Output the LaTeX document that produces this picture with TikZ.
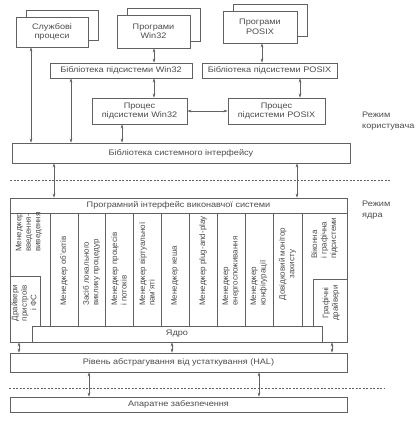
\documentclass[tikz,border=0pt]{standalone}
\usepackage{fontspec}
\setmainfont{Liberation Sans}
\newfontfamily\hfont[FakeStretch=1.14]{Liberation Sans}
\usetikzlibrary{arrows.meta}
\definecolor{ln}{gray}{0.38}
\definecolor{tx}{gray}{0.3}
\tikzset{
  box/.style={draw=ln, fill=white, line width=0.6pt, inner sep=0pt, align=center,
    text=tx, font=\hfont\fontsize{8}{9.5}\selectfont},
  arr/.style={draw=ln, line width=0.5pt, {Stealth[length=4pt,width=2.6pt]}-{Stealth[length=4pt,width=2.6pt]}},
  sep/.style={draw=ln, line width=0.5pt, dash pattern=on 2pt off 1.5pt},
  vtext/.style={rotate=90, anchor=west, align=left, inner sep=0pt, text=tx,
    font=\fontsize{8}{9.5}\selectfont},
  vctext/.style={rotate=90, anchor=center, align=center, inner sep=0pt, text=tx,
    font=\fontsize{8}{9.5}\selectfont},
  side/.style={anchor=north west, align=left, inner sep=0pt, text=tx,
    font=\hfont\fontsize{8}{11}\selectfont}
}
\begin{document}
\begin{tikzpicture}[x=1pt,y=-1pt]
\useasboundingbox[fill=white] (0,0) rectangle (415,431);

% user mode boxes
\node[box, minimum width=72pt, minimum height=30pt] (svcB) at (62,25) {};
\node[box, minimum width=72pt, minimum height=30pt] (svc) at (52,32) {Службові\\процеси};
\node[box, minimum width=73pt, minimum height=33pt] (progWB) at (163.5,24.5) {};
\node[box, minimum width=73pt, minimum height=33pt] (progW) at (153.5,31.5) {Програми\\Win32};
\node[box, minimum width=74pt, minimum height=32pt] (progPB) at (270,20) {};
\node[box, minimum width=74pt, minimum height=32pt] (progP) at (260,27) {Програми\\POSIX};

\node[box, minimum width=142pt, minimum height=15pt] (libW) at (121,70.5) {Бібліотека підсистеми Win32};
\node[box, minimum width=135pt, minimum height=15pt] (libP) at (269.5,70.5) {Бібліотека підсистеми POSIX};
\node[box, minimum width=95pt, minimum height=26pt] (procW) at (139.5,111) {Процес\\підсистеми Win32};
\node[box, minimum width=97pt, minimum height=26pt] (procP) at (276.5,111) {Процес\\підсистеми POSIX};
\node[box, minimum width=338pt, minimum height=20pt] (sys) at (181,153) {Бібліотека системного інтерфейсу};

% kernel mode
\node[box, minimum width=337pt, minimum height=144pt] (frame) at (178.5,270) {};
\node[box, minimum width=337pt, minimum height=15pt] (api) at (178.5,205.5) {Програмний інтерфейс виконавчої системи};
\node[box, minimum width=30pt, minimum height=66pt] (drv) at (25,309) {};
\node[box, minimum width=34pt, minimum height=63pt] (gfx) at (330,310.5) {};
\node[box, minimum width=290pt, minimum height=16pt] (kern) at (177,334) {Ядро};

\foreach \x in {50,78,105,133,161,189,217,245,273,302}
  \draw[ln, line width=0.6pt] (\x,0 |- api.south) -- (\x,0 |- kern.north);

\node[vtext] (m1) at (29,252) {Менеджер\\введення-\\виведення};
\node[vtext] (m2) at (64,306) {Менеджер об'єктів};
\node[vtext] (m3) at (91.5,306) {Засіб локального\\виклику процедур};
\node[vtext] (m4) at (119,306) {Менеджер процесів\\і потоків};
\node[vtext] (m5) at (147,306) {Менеджер віртуальної\\пам'яті};
\node[vtext] (m6) at (175,306) {Менеджер кеша};
\node[vtext] (m7) at (203,306) {Менеджер plug-and-play};
\node[vtext] (m8) at (231,306) {Менеджер\\енергоспоживання};
\node[vtext] (m9) at (259,306) {Менеджер\\конфігурації};
\node[vctext] (m10) at (287.5,264) {Довідковий монітор\\захисту};
\node[vtext] (m11) at (324.5,259) {Віконна\\і графічна\\підсистеми};
\node[vctext] (dtx) at (24,303) {Драйвери\\пристроїв\\і ФС};
\node[vctext] (gtx) at (331,303) {Графічні\\драйвери};

\node[box, minimum width=337pt, minimum height=19pt] (hal) at (178.5,362.5) {Рівень абстрагування від устаткування (HAL)};
\node[box, minimum width=337pt, minimum height=15pt] (hw) at (178.5,404.5) {Апаратне забезпечення};

% side labels
\node[side] (um) at (362,112) {Режим\\користувача};
\node[side] (km) at (362,201) {Режим\\ядра};

% separators
\coordinate (d1a) at (10,180); \coordinate (d1b) at (390,180);
\coordinate (d2a) at (9,388); \coordinate (d2b) at (385,388);
\draw[sep] (d1a) -- (d1b);
\draw[sep] (d2a) -- (d2b);

% connectors
\draw[arr] (31,0 |- svc.south) -- (31,0 |- sys.north);
\draw[arr] (71,0 |- libW.south) -- (71,0 |- sys.north);
\draw[arr] (154,0 |- progW.south) -- (154,0 |- libW.north);
\draw[arr] (262,0 |- progP.south) -- (262,0 |- libP.north);
\draw[arr] (154,0 |- libW.south) -- (154,0 |- procW.north);
\draw[arr] (300,0 |- libP.south) -- (300,0 |- procP.north);
\draw[arr] (procW.east) -- (procP.west);
\draw[arr] (122,0 |- procW.south) -- (122,0 |- sys.north);
\draw[arr] (54,0 |- sys.south) -- (54,0 |- api.north);
\draw[arr] (297,0 |- sys.south) -- (297,0 |- api.north);
\draw[arr] (19,0 |- frame.south) -- (19,0 |- hal.north);
\draw[arr] (172,0 |- kern.south) -- (172,0 |- hal.north);
\draw[arr] (332,0 |- frame.south) -- (332,0 |- hal.north);
\draw[arr] (89,0 |- hal.south) -- (89,0 |- hw.north);
\draw[arr] (259,0 |- hal.south) -- (259,0 |- hw.north);
\end{tikzpicture}
\end{document}
